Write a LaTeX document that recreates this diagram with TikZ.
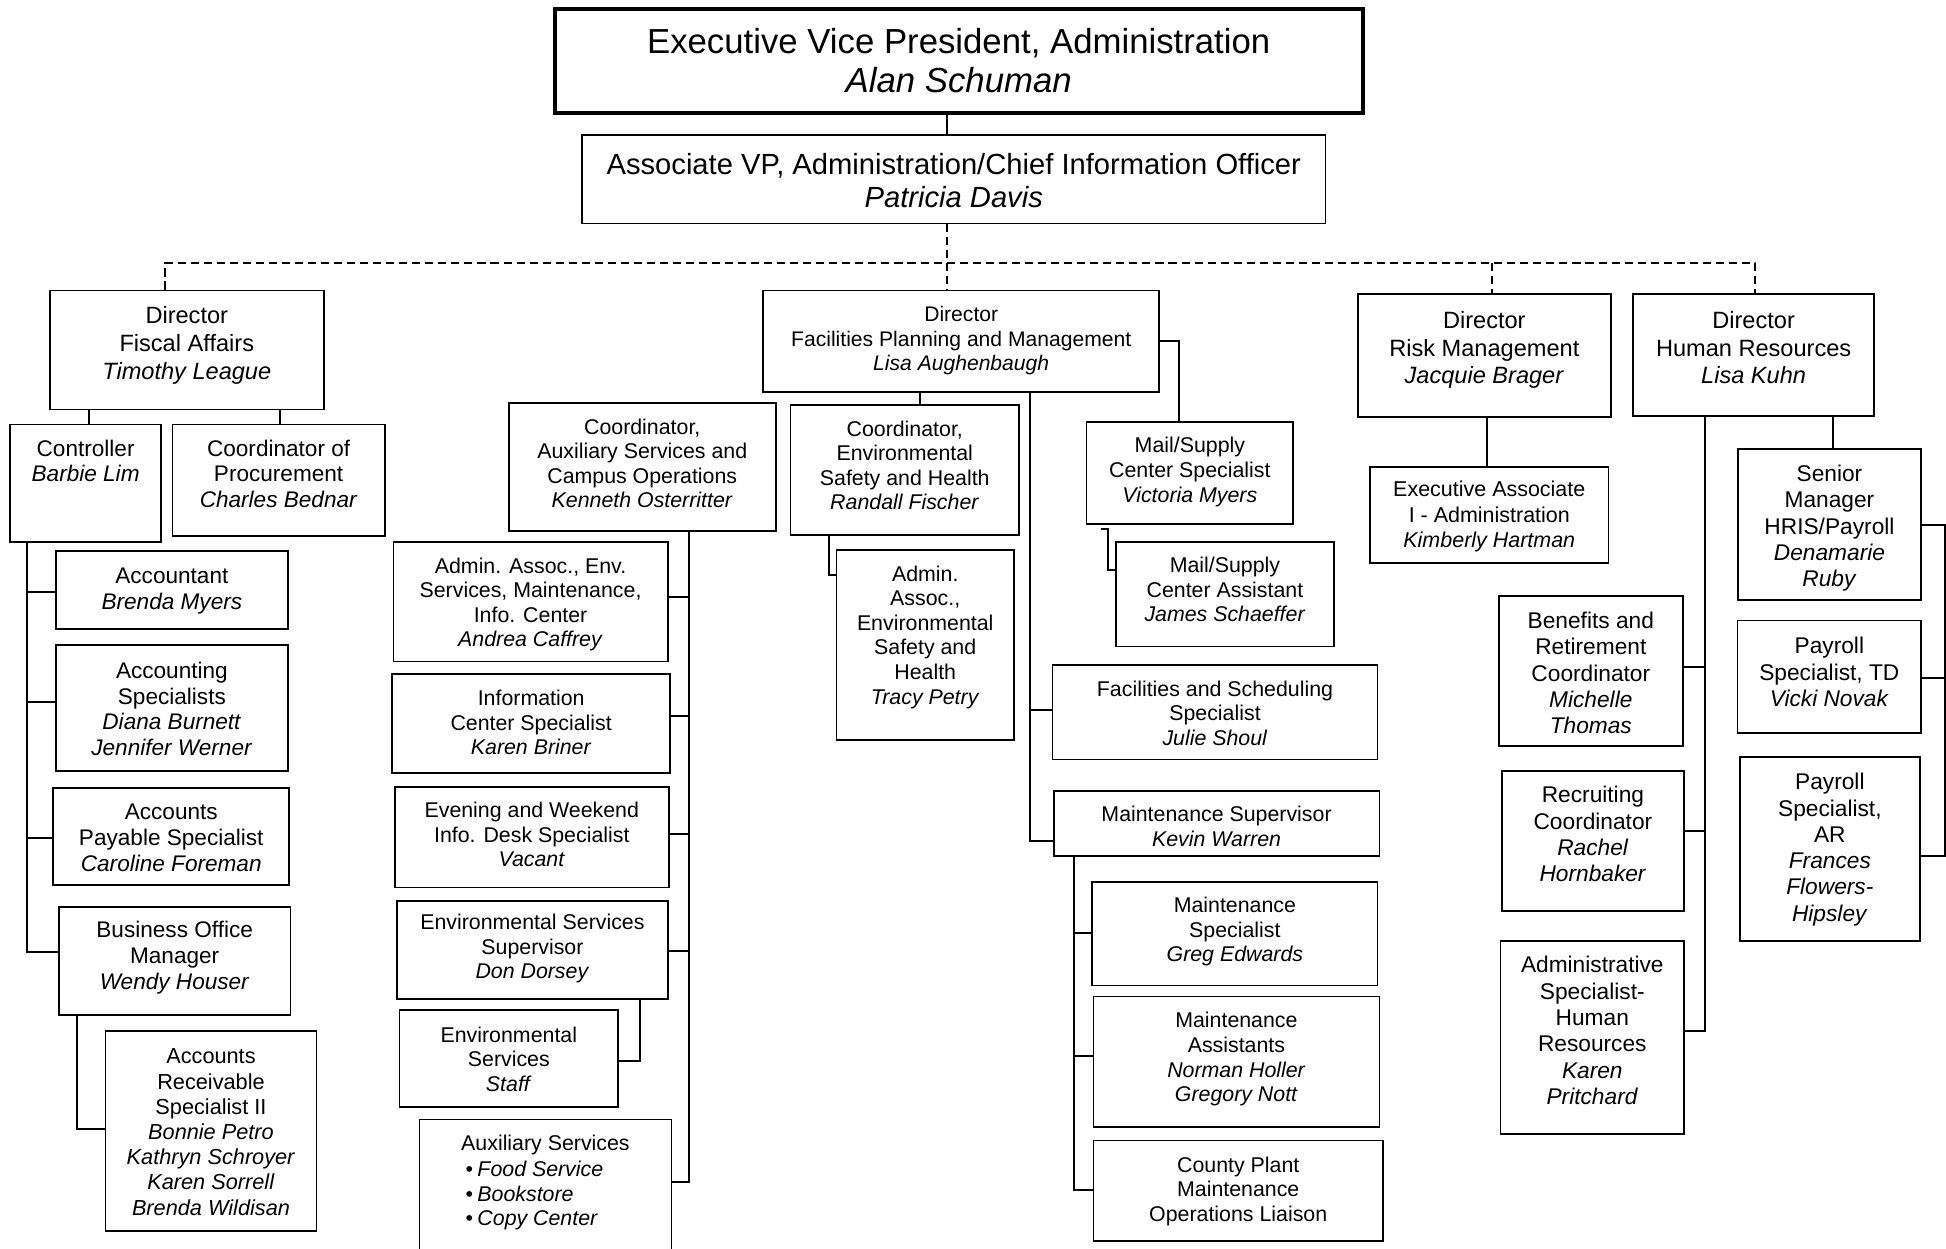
\documentclass[tikz,border=0pt]{standalone}
\usepackage{fontspec}
\setmainfont{Liberation Sans}
\usetikzlibrary{fit}
\tikzset{
  bxs/.style={draw, line width=1.4pt, inner sep=0pt},
  txt/.style={anchor=north, align=center, inner sep=0pt},
  con/.style={line width=1.6pt},
  dsh/.style={line width=1.4pt, dash pattern=on 6.5pt off 4pt},
  fEVP/.style={font=\fontsize{28}{31.5}\selectfont},
  fAVP/.style={font=\fontsize{23.5}{27}\selectfont},
  fDir/.style={font=\fontsize{19}{22.4}\selectfont},
  fFac/.style={font=\fontsize{17}{20}\selectfont},
  fLft/.style={font=\fontsize{18.2}{20.8}\selectfont},
  fARS/.style={font=\fontsize{17.5}{20.3}\selectfont},
  fM/.style={font=\fontsize{17.2}{19.8}\selectfont},
  fEA/.style={font=\fontsize{17.3}{20.5}\selectfont},
  fR/.style={font=\fontsize{18.3}{21.2}\selectfont},
}
% #1 name, #2 x1, #3 y1, #4 x2, #5 y2, #6 text top, #7 font style, #8 text
\newcommand\obox[8]{%
  \node[bxs, fit={(#2,#3)(#4,#5)}] (#1) {};
  \node[txt, #7] (#1-t) at ({(#2+#4)/2},#6) {\rule{0pt}{0.8em}#8};
}
\begin{document}
\begin{tikzpicture}[x=1pt, y=-1pt]
\useasboundingbox (0,0) rectangle (1568,1006);

% top
\node[bxs, line width=3.4pt, fit={(447,7)(1098,91)}] (evp) {};
\node[txt, fEVP] (evp-t) at (772.5,20.7) {\rule{0pt}{0.8em}Executive Vice President, Administration\\ \textit{Alan Schuman}};
\obox{avp}{469}{109}{1068}{180}{121.3}{fAVP}{Associate VP, Administration/Chief Information Officer\\ \textit{Patricia Davis}}

% directors
\obox{fis}{40}{234}{261}{330}{245.6}{fDir}{Director\\ Fiscal Affairs\\ \textit{Timothy League}}
\obox{fac}{615}{234}{934}{316}{245.1}{fFac}{Director\\ Facilities Planning and Management\\ \textit{Lisa Aughenbaugh}}
\obox{risk}{1094}{237}{1298}{336}{249.1}{fDir}{Director\\ Risk Management\\ \textit{Jacquie Brager}}
\obox{hr}{1316}{237}{1510}{335}{249.1}{fDir}{Director\\ Human Resources\\ \textit{Lisa Kuhn}}

% fiscal affairs column
\obox{ctl}{8}{342}{130}{437}{352.8}{fLft}{Controller\\ \textit{Barbie Lim}}
\obox{proc}{139}{342}{310}{432}{352.8}{fLft}{Coordinator of\\ Procurement\\ \textit{Charles Bednar}}
\obox{acc}{45}{444}{232}{507}{455.5}{fLft}{Accountant\\ \textit{Brenda Myers}}
\obox{accsp}{45}{520}{232}{621}{531.7}{fLft}{Accounting\\ Specialists\\ \textit{Diana Burnett}\\ \textit{Jennifer Werner}}
\obox{ap}{43}{635}{233}{713}{645.7}{fLft}{Accounts\\ Payable Specialist\\ \textit{Caroline Foreman}}
\obox{bom}{47.5}{731}{234}{818}{741}{fLft}{Business Office\\ Manager\\ \textit{Wendy Houser}}
\obox{ars}{85}{831}{255}{992}{843.1}{fARS}{Accounts\\ Receivable\\ Specialist II\\ \textit{Bonnie Petro}\\ \textit{Kathryn Schroyer}\\ \textit{Karen Sorrell}\\ \textit{Brenda Wildisan}}

% auxiliary services column
\obox{caux}{410}{325}{625}{428}{335.8}{fM}{Coordinator,\\ Auxiliary Services and\\ Campus Operations\\ \textit{Kenneth Osterritter}}
\obox{aa}{317}{437}{538}{533}{447.8}{fM}{Admin. Assoc., Env.\\ Services, Maintenance,\\ Info. Center\\ \textit{Andrea Caffrey}}
\obox{ic}{316}{543}{540}{623}{554.7}{fM}{Information\\ Center Specialist\\ \textit{Karen Briner}}
\obox{ev}{318}{634}{539}{715}{645}{fM}{Evening and Weekend\\ Info. Desk Specialist\\ \textit{Vacant}}
\obox{es}{320}{726}{538}{805}{735.2}{fM}{Environmental Services\\ Supervisor\\ \textit{Don Dorsey}}
\obox{est}{322}{814}{498}{892}{825.9}{fM}{Environmental\\ Services\\ \textit{Staff}}
\node[bxs, fit={(338,902)(541,1008.5)}] (aux) {};
\node[txt, fM] (aux-t) at (439.5,913.4) {\rule{0pt}{0.8em}Auxiliary Services};
\node[anchor=north west, inner sep=0pt, align=left, fM] (aux-l) at (375,934) {\rule{0pt}{0.8em}•\hspace{3.5pt}\textit{Food Service}\\ •\hspace{3.5pt}\textit{Bookstore}\\ •\hspace{3.5pt}\textit{Copy Center}};

% environmental safety
\obox{cenv}{637}{326.5}{821}{431}{337.4}{fM}{Coordinator,\\ Environmental\\ Safety and Health\\ \textit{Randall Fischer}}
\obox{aae}{674}{443}{817}{596}{454.4}{fM}{Admin.\\ Assoc.,\\ Environmental\\ Safety and\\ Health\\ \textit{Tracy Petry}}

% facilities right
\obox{msp}{875.5}{340}{1042}{422}{351}{fM}{Mail/Supply\\ Center Specialist\\ \textit{Victoria Myers}}
\obox{mas}{899}{437}{1075}{521}{447.4}{fM}{Mail/Supply\\ Center Assistant\\ \textit{James Schaeffer}}
\obox{fs}{848}{536}{1110}{612}{547}{fM}{Facilities and Scheduling\\ Specialist\\ \textit{Julie Shoul}}
\obox{msup}{849}{637.5}{1111.5}{690}{648.1}{fM}{Maintenance Supervisor\\ \textit{Kevin Warren}}
\obox{mspc}{880}{710.6}{1110}{794}{721.3}{fM}{Maintenance\\ Specialist\\ \textit{Greg Edwards}}
\obox{ma}{881}{803}{1111.5}{908}{814.3}{fM}{Maintenance\\ Assistants\\ \textit{Norman Holler}\\ \textit{Gregory Nott}}
\obox{cp}{881}{919}{1114.4}{1000}{930.4}{fM}{County Plant\\ Maintenance\\ Operations Liaison}

% risk
\obox{ea}{1104}{376}{1296}{453.5}{386.4}{fEA}{Executive Associate\\ I - Administration\\ \textit{Kimberly Hartman}}

% human resources
\obox{ben}{1207.6}{480}{1356}{601}{491.6}{fR}{Benefits and\\ Retirement\\ Coordinator\\ \textit{Michelle}\\ \textit{Thomas}}
\obox{rec}{1210}{621}{1357}{734}{632}{fR}{Recruiting\\ Coordinator\\ \textit{Rachel}\\ \textit{Hornbaker}}
\obox{ash}{1209}{758}{1357}{914}{769}{fR}{Administrative\\ Specialist-\\ Human\\ Resources\\ \textit{Karen}\\ \textit{Pritchard}}
\obox{sen}{1400.4}{362}{1547.8}{483.6}{373.2}{fR}{Senior\\ Manager\\ HRIS/Payroll\\ \textit{Denamarie}\\ \textit{Ruby}}
\obox{ptd}{1400}{500}{1548}{590.5}{512}{fR}{Payroll\\ Specialist, TD\\ \textit{Vicki Novak}}
\obox{par}{1401.8}{610}{1547}{758}{621.5}{fR}{Payroll\\ Specialist,\\ AR\\ \textit{Frances}\\ \textit{Flowers-}\\ \textit{Hipsley}}

% ---- connectors ----
\coordinate (bus) at (763,212);
\coordinate (mt) at (887,426);
\draw[con] (evp.south -| 763,0) -- (avp.north -| 763,0);
\draw[dsh] (avp.south -| 763,0) -- (fac.north -| 763,0);
\draw[dsh] (fis.north -| 133,0) |- (bus);
\draw[dsh] (bus) -| (hr.north -| 1414,0);
\draw[dsh] (bus -| 1202,0) -- (risk.north -| 1202,0);

% fiscal
\draw[con] (fis.south -| 72,0) -- (ctl.north -| 72,0);
\draw[con] (fis.south -| 226,0) -- (proc.north -| 226,0);
\draw[con] (ctl.south -| 22,0) |- (bom.west |- 0,767);
\draw[con] (22,477) -- (acc.west |- 0,477);
\draw[con] (22,566) -- (accsp.west |- 0,566);
\draw[con] (22,675) -- (ap.west |- 0,675);
\draw[con] (bom.south -| 62,0) |- (ars.west |- 0,910);

% auxiliary
\draw[con] (caux.south -| 555,0) |- (aux.east |- 0,952);
\draw[con] (555,481) -- (aa.east |- 0,481);
\draw[con] (555,577) -- (ic.east |- 0,577);
\draw[con] (555,672) -- (ev.east |- 0,672);
\draw[con] (555,766) -- (es.east |- 0,766);
\draw[con] (es.south -| 516,0) |- (est.east |- 0,855);

% facilities
\draw[con] (fac.south -| 741,0) -- (cenv.north -| 741,0);
\draw[con] (cenv.south -| 668,0) |- (aae.west |- 0,463);
\draw[con] (fac.south -| 830,0) |- (msup.west |- 0,678);
\draw[con] (830,572) -- (fs.west |- 0,572);
\draw[con] (fac.east |- 0,275) -| (msp.north -| 950,0);
\draw[con] (mt) -- (893,426) |- (mas.west |- 0,459.5);
\draw[con] (msup.south -| 865,0) |- (cp.west |- 0,959);
\draw[con] (865,752) -- (mspc.west |- 0,752);
\draw[con] (865,851) -- (ma.west |- 0,851);

% risk
\draw[con] (risk.south -| 1198.5,0) -- (ea.north -| 1198.5,0);

% hr
\draw[con] (hr.south -| 1374,0) |- (ash.east |- 0,830.6);
\draw[con] (1374,537.6) -- (ben.east |- 0,537.6);
\draw[con] (1374,669.4) -- (rec.east |- 0,669.4);
\draw[con] (hr.south -| 1477,0) -- (sen.north -| 1477,0);
\draw[con] (sen.east |- 0,422.7) -| (1567,689.5) -- (par.east |- 0,689.5);
\draw[con] (1567,546) -- (ptd.east |- 0,546);
\end{tikzpicture}
\end{document}
